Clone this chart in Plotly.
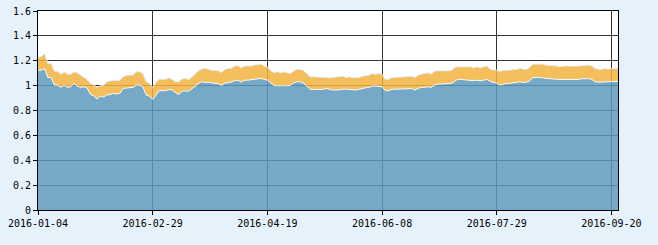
import pandas as pd
import plotly.graph_objects as go

# Trading-day categories (2016 SSE calendar)
holidays = ["2016-02-08", "2016-02-09", "2016-02-10", "2016-02-11", "2016-02-12",
            "2016-04-04", "2016-05-02", "2016-06-09", "2016-06-10",
            "2016-09-15", "2016-09-16"]
dates = [d.strftime("%Y-%m-%d") for d in
         pd.bdate_range("2016-01-04", "2016-09-22", freq="C", holidays=holidays)]

# Lower (blue) series
blue = [1.124, 1.124, 1.135, 1.066, 1.066, 1.004, 1.004, 0.986, 1.004, 0.986,
        0.991, 1.018, 0.996, 0.986, 0.991, 0.980, 0.929, 0.919, 0.892, 0.916,
        0.908, 0.924, 0.929, 0.938, 0.932, 0.938, 0.978, 0.983, 0.983, 0.986,
        1.004, 1.004, 0.991, 0.924, 0.916, 0.889, 0.927, 0.959, 0.959, 0.959,
        0.970, 0.964, 0.943, 0.929, 0.956, 0.956, 0.956, 0.975, 0.996, 1.018,
        1.031, 1.026, 1.028, 1.020, 1.018, 1.015, 1.002, 1.020, 1.023, 1.028,
        1.039, 1.044, 1.028, 1.044, 1.044, 1.047, 1.055, 1.058, 1.058, 1.050,
        1.044, 1.023, 1.002, 0.999, 1.002, 0.999, 0.999, 1.002, 1.023, 1.031,
        1.031, 1.020, 0.999, 0.970, 0.970, 0.970, 0.975, 0.970, 0.978, 0.970,
        0.964, 0.964, 0.970, 0.970, 0.972, 0.970, 0.964, 0.964, 0.970, 0.978,
        0.983, 0.986, 0.996, 0.996, 0.996, 0.991, 0.959, 0.959, 0.970, 0.970,
        0.970, 0.972, 0.972, 0.975, 0.978, 0.964, 0.978, 0.986, 0.986, 0.991,
        0.986, 1.004, 1.012, 1.012, 1.015, 1.015, 1.018, 1.031, 1.050, 1.050,
        1.047, 1.044, 1.042, 1.039, 1.044, 1.039, 1.044, 1.050, 1.034, 1.028,
        1.020, 1.004, 1.012, 1.018, 1.018, 1.023, 1.023, 1.031, 1.026, 1.028,
        1.039, 1.063, 1.066, 1.066, 1.063, 1.058, 1.058, 1.055, 1.052, 1.050,
        1.050, 1.050, 1.050, 1.044, 1.044, 1.050, 1.055, 1.058, 1.055, 1.050,
        1.031, 1.028, 1.028, 1.031, 1.031, 1.034, 1.034, 1.034]

# Upper (orange) series
orange = [1.226, 1.237, 1.258, 1.178, 1.178, 1.116, 1.116, 1.092, 1.111, 1.092,
          1.092, 1.111, 1.103, 1.082, 1.066, 1.050, 1.018, 1.007, 0.986, 0.999,
          1.002, 1.031, 1.036, 1.044, 1.039, 1.044, 1.071, 1.084, 1.084, 1.087,
          1.111, 1.111, 1.098, 1.031, 1.018, 0.986, 1.028, 1.052, 1.052, 1.052,
          1.063, 1.050, 1.031, 1.031, 1.055, 1.058, 1.050, 1.071, 1.098, 1.119,
          1.135, 1.138, 1.132, 1.124, 1.124, 1.119, 1.106, 1.130, 1.138, 1.140,
          1.157, 1.162, 1.143, 1.157, 1.159, 1.157, 1.165, 1.170, 1.173, 1.157,
          1.151, 1.119, 1.106, 1.111, 1.103, 1.111, 1.103, 1.098, 1.116, 1.132,
          1.132, 1.122, 1.098, 1.071, 1.071, 1.071, 1.071, 1.071, 1.066, 1.063,
          1.066, 1.071, 1.071, 1.076, 1.066, 1.071, 1.063, 1.063, 1.066, 1.076,
          1.082, 1.084, 1.098, 1.092, 1.098, 1.092, 1.050, 1.052, 1.066, 1.066,
          1.066, 1.071, 1.071, 1.074, 1.076, 1.066, 1.084, 1.092, 1.098, 1.103,
          1.092, 1.116, 1.119, 1.119, 1.119, 1.119, 1.119, 1.143, 1.151, 1.151,
          1.151, 1.146, 1.151, 1.143, 1.151, 1.143, 1.151, 1.159, 1.132, 1.130,
          1.124, 1.114, 1.124, 1.124, 1.124, 1.132, 1.130, 1.138, 1.132, 1.130,
          1.146, 1.173, 1.173, 1.173, 1.173, 1.165, 1.165, 1.159, 1.159, 1.151,
          1.157, 1.159, 1.157, 1.157, 1.151, 1.157, 1.162, 1.165, 1.165, 1.159,
          1.138, 1.132, 1.130, 1.138, 1.132, 1.138, 1.140, 1.140]

tick_labels = dates[::35]
y_ticks = [0, 0.2, 0.4, 0.6, 0.8, 1, 1.2, 1.4, 1.6]

fig = go.Figure()
fig.add_trace(go.Scatter(
    x=dates, y=blue, mode="lines", fill="tozeroy",
    fillcolor="rgba(93,154,189,0.85)",
    line=dict(color="rgba(255,255,255,0.9)", width=1),
    hoverinfo="skip", showlegend=False))
fig.add_trace(go.Scatter(
    x=dates, y=orange, mode="lines", fill="tonexty",
    fillcolor="rgba(242,179,63,0.85)",
    line=dict(color="rgba(225,238,248,0.95)", width=1),
    hoverinfo="skip", showlegend=False))

fig.update_layout(
    width=658, height=245,
    margin=dict(l=38, r=40, t=11, b=35, autoexpand=False),
    paper_bgcolor="#e6f2fb", plot_bgcolor="#ffffff",
    font=dict(family="DejaVu Sans Mono", size=10, color="#000000"),
    showlegend=False,
)
fig.update_xaxes(
    type="category", range=[0, len(dates) - 1], automargin=False,
    tickmode="array", tickvals=tick_labels, ticktext=tick_labels,
    showgrid=True, gridcolor="#333333", gridwidth=1,
    showline=True, linecolor="#000000", linewidth=1, mirror=True,
    ticks="outside", ticklen=4, tickcolor="#000000",
    tickangle=0, zeroline=False,
)
fig.update_yaxes(
    range=[0, 1.6], tickmode="array", tickvals=y_ticks, automargin=False,
    showgrid=True, gridcolor="#333333", gridwidth=1,
    showline=True, linecolor="#000000", linewidth=1, mirror=True,
    ticks="outside", ticklen=4, tickcolor="#000000",
    zeroline=False,
)

fig.write_html("out.html")
